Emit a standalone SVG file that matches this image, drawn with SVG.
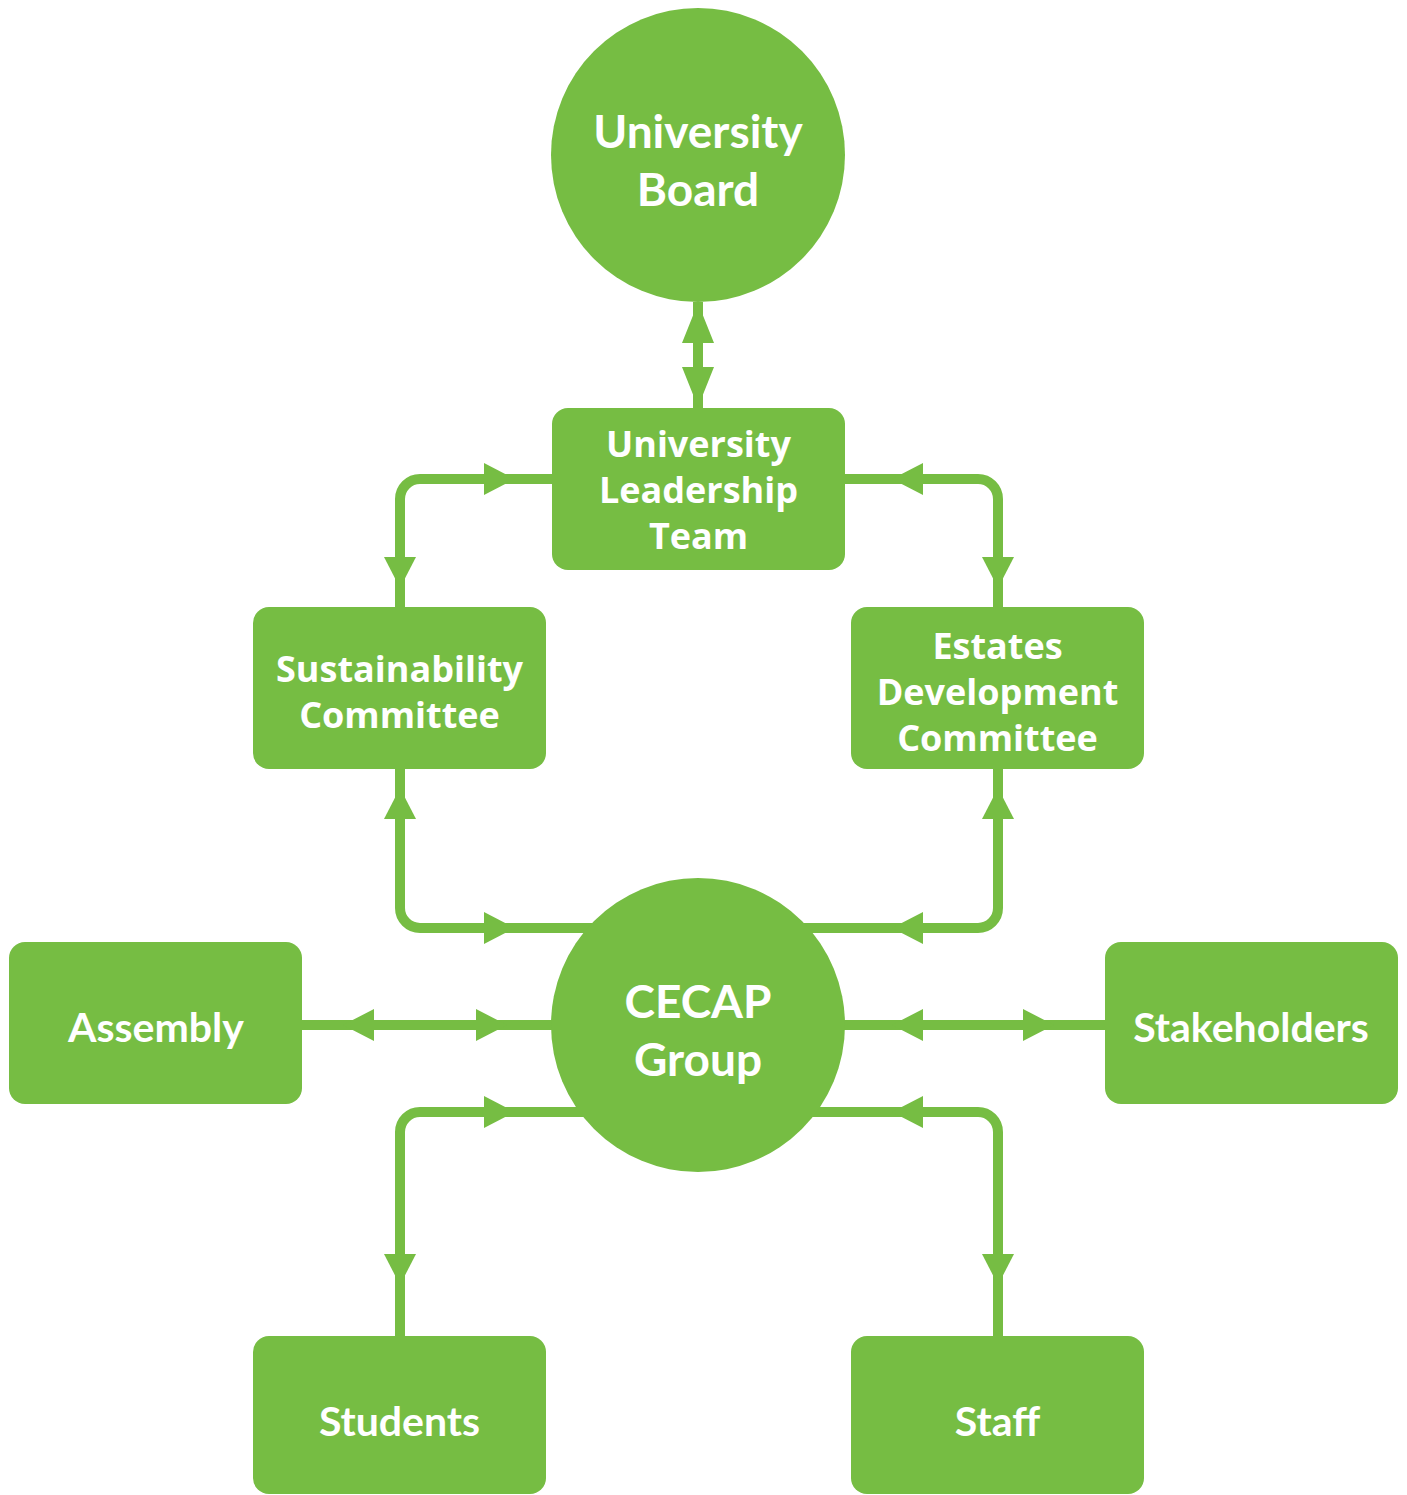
<svg xmlns="http://www.w3.org/2000/svg" xmlns:xlink="http://www.w3.org/1999/xlink" width="1407" height="1495" viewBox="0 0 1407 1495">
<style>
.node{fill:#76bd43}
.conn{fill:none;stroke:#76bd43;stroke-width:10}
.ah{fill:#76bd43}
.big{font-family:Lato,"Open Sans","Liberation Sans",sans-serif;font-weight:700;font-size:46px;fill:#fff;text-anchor:middle}
.mid{font-family:"Open Sans","Liberation Sans",sans-serif;font-weight:700;font-size:36px;fill:#fff;text-anchor:middle}
.one{font-family:Lato,"Open Sans","Liberation Sans",sans-serif;font-weight:700;font-size:41px;fill:#fff;text-anchor:middle}
</style>
<defs>
<path id="ah" d="M0,0 L-31,-16 L-31,16 Z"/>
<path id="ah2" d="M0,0 L-40,-16 L-40,16 Z"/>
</defs>
<rect width="1407" height="1495" fill="#fff"/>
<g id="connectors">
<path class="conn" d="M698,302 V408"/>
<path class="conn" d="M552,479 H420 A20,20 0 0 0 400,499 V607"/>
<path class="conn" d="M845,479 H978 A20,20 0 0 1 998,499 V607"/>
<path class="conn" d="M400,769 V908 A20,20 0 0 0 420,928 H600"/>
<path class="conn" d="M998,769 V908 A20,20 0 0 1 978,928 H796"/>
<path class="conn" d="M302,1025 H560"/>
<path class="conn" d="M836,1025 H1105"/>
<path class="conn" d="M600,1112 H420 A20,20 0 0 0 400,1132 V1336"/>
<path class="conn" d="M796,1112 H978 A20,20 0 0 1 998,1132 V1336"/>
<g class="ah">
<use xlink:href="#ah2" transform="translate(698,303) rotate(-90)"/>
<use xlink:href="#ah2" transform="translate(698,407) rotate(90)"/>
<use xlink:href="#ah" transform="translate(515,479)"/>
<use xlink:href="#ah" transform="translate(400,588) rotate(90)"/>
<use xlink:href="#ah" transform="translate(892,479) rotate(180)"/>
<use xlink:href="#ah" transform="translate(998,588) rotate(90)"/>
<use xlink:href="#ah" transform="translate(400,788) rotate(-90)"/>
<use xlink:href="#ah" transform="translate(515,928)"/>
<use xlink:href="#ah" transform="translate(998,788) rotate(-90)"/>
<use xlink:href="#ah" transform="translate(892,928) rotate(180)"/>
<use xlink:href="#ah" transform="translate(343,1025) rotate(180)"/>
<use xlink:href="#ah" transform="translate(507,1025)"/>
<use xlink:href="#ah" transform="translate(892,1025) rotate(180)"/>
<use xlink:href="#ah" transform="translate(1054,1025)"/>
<use xlink:href="#ah" transform="translate(515,1112)"/>
<use xlink:href="#ah" transform="translate(400,1285) rotate(90)"/>
<use xlink:href="#ah" transform="translate(892,1112) rotate(180)"/>
<use xlink:href="#ah" transform="translate(998,1285) rotate(90)"/>
</g>
</g>
<g id="university-board">
<circle class="node" cx="698" cy="155" r="147"/>
<text class="big" x="698" y="148">University</text>
<text class="big" x="698" y="206">Board</text>
</g>
<g id="university-leadership-team">
<rect class="node" x="552" y="408" width="293" height="162" rx="16"/>
<text class="mid" x="698.5" y="457">University</text>
<text class="mid" x="698.5" y="503">Leadership</text>
<text class="mid" x="698.5" y="549">Team</text>
</g>
<g id="sustainability-committee">
<rect class="node" x="253" y="607" width="293" height="162" rx="16"/>
<text class="mid" x="399.5" y="682">Sustainability</text>
<text class="mid" x="399.5" y="728">Committee</text>
</g>
<g id="estates-development-committee">
<rect class="node" x="851" y="607" width="293" height="162" rx="16"/>
<text class="mid" x="997.5" y="659">Estates</text>
<text class="mid" x="997.5" y="705">Development</text>
<text class="mid" x="997.5" y="751">Committee</text>
</g>
<g id="cecap-group">
<circle class="node" cx="698" cy="1025" r="147"/>
<text class="big" x="698" y="1018">CECAP</text>
<text class="big" x="698" y="1076">Group</text>
</g>
<g id="assembly">
<rect class="node" x="9" y="942" width="293" height="162" rx="16"/>
<text class="one" x="156" y="1042">Assembly</text>
</g>
<g id="stakeholders">
<rect class="node" x="1105" y="942" width="293" height="162" rx="16"/>
<text class="one" x="1251" y="1042">Stakeholders</text>
</g>
<g id="students">
<rect class="node" x="253" y="1336" width="293" height="158" rx="16"/>
<text class="one" x="399.5" y="1436">Students</text>
</g>
<g id="staff">
<rect class="node" x="851" y="1336" width="293" height="158" rx="16"/>
<text class="one" x="997.5" y="1436">Staff</text>
</g>
</svg>
